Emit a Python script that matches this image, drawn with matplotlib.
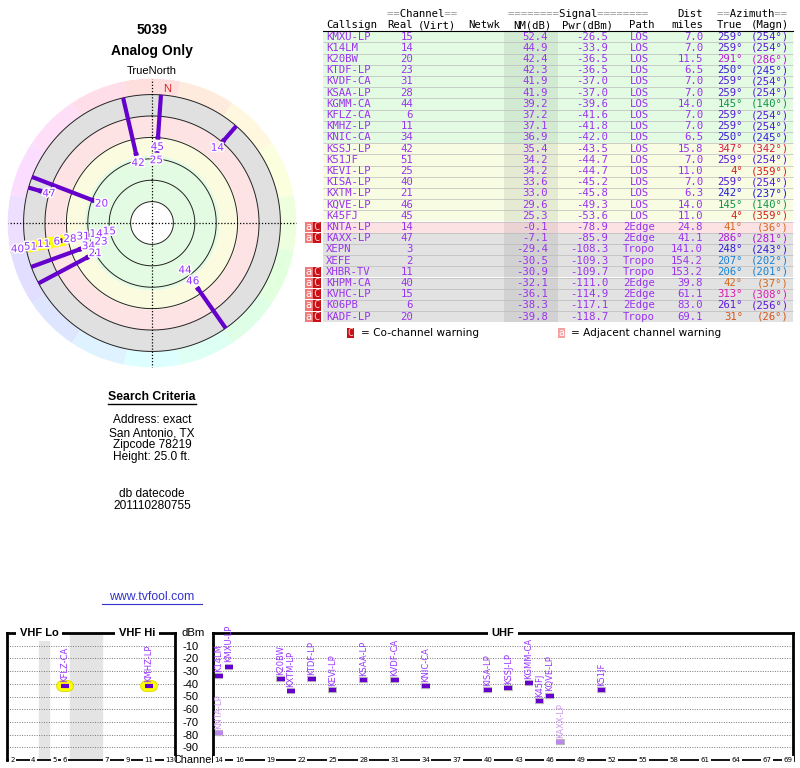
import numpy as np
import matplotlib
matplotlib.use('Agg')
import matplotlib.pyplot as plt
import matplotlib.patheffects as pe
from matplotlib.colors import hsv_to_rgb
from matplotlib.patches import Rectangle

# ---- station table ----
callsigns = ['KMXU-LP', 'K14LM', 'K20BW', 'KTDF-LP', 'KVDF-CA', 'KSAA-LP', 'KGMM-CA',
             'KFLZ-CA', 'KMHZ-LP', 'KNIC-CA', 'KSSJ-LP', 'K51JF', 'KEVI-LP', 'KISA-LP',
             'KXTM-LP', 'KQVE-LP', 'K45FJ', 'KNTA-LP', 'KAXX-LP', 'XEPN', 'XEFE',
             'XHBR-TV', 'KHPM-CA', 'KVHC-LP', 'K06PB', 'KADF-LP']
channels = [15, 14, 20, 23, 31, 28, 44, 6, 11, 34, 42, 51, 25, 40, 21, 46, 45, 14, 47,
            3, 2, 11, 40, 15, 6, 20]
nm_db = [52.4, 44.9, 42.4, 42.3, 41.9, 41.9, 39.2, 37.2, 37.1, 36.9, 35.4, 34.2, 34.2,
         33.6, 33.0, 29.6, 25.3, -0.1, -7.1, -29.4, -30.5, -30.9, -32.1, -36.1, -38.3, -39.8]
pwr_dbm = [-26.5, -33.9, -36.5, -36.5, -37.0, -37.0, -39.6, -41.6, -41.8, -42.0, -43.5,
           -44.7, -44.7, -45.2, -45.8, -49.3, -53.6, -78.9, -85.9, -108.3, -109.3, -109.7,
           -111.0, -114.9, -117.1, -118.7]
paths = ['LOS'] * 17 + ['2Edge', '2Edge', 'Tropo', 'Tropo', 'Tropo', '2Edge', '2Edge',
                        '2Edge', 'Tropo']
dist_mi = [7.0, 7.0, 11.5, 6.5, 7.0, 7.0, 14.0, 7.0, 7.0, 6.5, 15.8, 7.0, 11.0, 7.0, 6.3,
           14.0, 11.0, 24.8, 41.1, 141.0, 154.2, 153.2, 39.8, 61.1, 83.0, 69.1]
az_true = [259, 259, 291, 250, 259, 259, 145, 259, 259, 250, 347, 259, 4, 259, 242, 145,
           4, 41, 286, 248, 207, 206, 42, 313, 261, 31]
az_magn = [254, 254, 286, 245, 254, 254, 140, 254, 254, 245, 342, 254, 359, 254, 237, 140,
           359, 36, 281, 243, 202, 201, 37, 308, 256, 26]
warnings = [''] * 17 + ['aC', 'aC', '', '', 'aC', 'aC', 'aC', 'aC', 'aC']
highlight = ['KFLZ-CA', 'KMHZ-LP']

uhf_ticks = [14, 16, 19, 22, 25, 28, 31, 34, 37, 40, 43, 46, 49, 52, 55, 58, 61, 64, 67, 69]
vhf_ticks = [2, 4, 5, 6, 7, 9, 11, 13]
dbm_ticks = [-10, -20, -30, -40, -50, -60, -70, -80, -90]

n = len(callsigns)
PURPLE = '#9933ee'
MARK = '#6600cc'
SANS = 'Liberation Sans'
MONO = 'DejaVu Sans Mono'

W, H = 800, 768
fig = plt.figure(figsize=(8, 7.68), dpi=100)


def px_axes(left, top, width, height, **kw):
    return fig.add_axes([left / W, 1 - (top + height) / H, width / W, height / H], **kw)


def az_color(b):
    # compass colour: red at N, orange NE, green SE, blue S/SW, violet W, magenta NW
    hue = np.interp(b, [0, 60, 120, 360], [0, 35, 120, 360]) / 360.0
    val = 0.85 - 0.3 * np.exp(-((b - 130) / 45.0) ** 2)
    return hsv_to_rgb((hue, 0.88, val))


def band(nm):
    if nm >= 36:
        return '#e3fbe3'
    if nm >= 15:
        return '#f7fce2'
    if nm >= -1:
        return '#fde2e4'
    return '#e2e2e2'


# ---- overlay for free text ----
ov = px_axes(0, 0, W, H)
ov.set_xlim(0, W)
ov.set_ylim(H, 0)
ov.axis('off')
ov.text(152, 30, '5039', ha='center', va='center', fontsize=10, fontweight='bold', family=SANS)
ov.text(152, 51, 'Analog Only', ha='center', va='center', fontsize=10, fontweight='bold', family=SANS)
ov.text(152, 397, 'Search Criteria', ha='center', va='center', fontsize=8.8, fontweight='bold', family=SANS)
ov.plot([108, 196], [404, 404], color='black', lw=1)
for y, s in zip([420, 433, 445, 457, 494, 506],
                ['Address: exact', 'San Antonio, TX', 'Zipcode 78219', 'Height: 25.0 ft.',
                 'db datecode', '201110280755']):
    ov.text(152, y, s, ha='center', va='center', fontsize=8.6, family=SANS)
ov.text(152, 597, 'www.tvfool.com', ha='center', va='center', fontsize=8.8, family=SANS, color='#3333cc')
ov.plot([102, 202], [604, 604], color='#3333cc', lw=0.8)

# ---- polar radar ----
R0 = 100.0  # NM(dB) at the centre maps to radius 0
RMAX = 135
pa = px_axes(152 - 144.5, 223 - 144.5, 289, 289, projection='polar')
pa.set_theta_zero_location('N')
pa.set_theta_direction(-1)
pa.set_ylim(0, RMAX)
pa.axis('off')

nw = 16
wth = np.arange(nw) * 2 * np.pi / nw
pa.bar(wth, RMAX - (R0 + 20), width=2 * np.pi / nw, bottom=R0 + 20,
       color=[hsv_to_rgb((t / (2 * np.pi), 0.13, 1.0)) for t in wth], edgecolor='none', zorder=1)
for lo, hi, c in [(80, 37, '#e3fbe3'), (37, 19, '#fbfbe0'), (19, 0, '#fde3e3'), (0, -20, '#e0e0e0')]:
    pa.bar(0, lo - hi, width=2 * np.pi, bottom=R0 - lo, color=c, edgecolor='none', zorder=1)
full = np.linspace(0, 2 * np.pi, 361)
for lvl in [80, 60, 40, 20, 0, -20]:
    pa.plot(full, np.full_like(full, R0 - lvl), color='#222222', lw=0.7, zorder=2)
for a in [0, 90, 180, 270]:
    pa.plot([np.radians(a)] * 2, [0, RMAX], color='black', lw=0.9, ls=(0, (1, 1.5)), zorder=2)
pa.text(0, RMAX + 2, 'TrueNorth', ha='center', va='bottom', fontsize=8, family=SANS)
pa.text(np.radians(6.5), 126, 'N', ha='center', va='center', fontsize=8, family=SANS, color='#dd2222', zorder=6)

step = 12.5
groups = {}
for i in range(n):
    if nm_db[i] > -20:
        groups.setdefault(az_true[i], []).append(i)
halo = [pe.withStroke(linewidth=2.2, foreground='white')]
for b, idx in groups.items():
    idx = sorted(idx, key=lambda k: -nm_db[k])
    th = np.radians(b)
    pos, prev = [], -np.inf
    for k in idx:
        p = max(R0 - nm_db[k], prev + step)
        pos.append(p)
        prev = p
    if pos[-1] < R0 + 20:
        pa.plot([th, th], [pos[-1], R0 + 20], color=MARK, lw=3, solid_capstyle='butt', zorder=5)
    for k, p in zip(idx, pos):
        if callsigns[k] in highlight:
            pa.plot([th, th], [p - 10, p + 3], color='#ffff00', lw=8, zorder=3)
        pa.plot([th, th], [p, p + 3], color=MARK, lw=3.5, solid_capstyle='butt', zorder=5)
        pa.text(th, p - 7, str(channels[k]), ha='center', va='center', fontsize=7.5,
                color='#9933ff', path_effects=halo, zorder=7)

# ---- station table ----
RH = 11.2
tb = px_axes(300, 0, 500, 345)
tb.set_xlim(300, 800)
tb.set_ylim((345 - 36.7) / RH, -36.7 / RH)
tb.axis('off')
fs = 7.7


def header(x, y, s, ha='left'):
    tb.text(x, y, ''.join(' ' if ch == '=' else ch for ch in s), ha=ha, va='center',
            fontsize=fs, family=MONO, color='black')
    tb.text(x, y, ''.join(ch if ch == '=' else ' ' for ch in s), ha=ha, va='center',
            fontsize=fs, family=MONO, color='#999999')


header(387, -2, '==Channel==')
header(508, -2, '========Signal========')
header(703, -2, 'Dist', ha='right')
header(717, -2, '==Azimuth==')
for x, s, ha in [(326, 'Callsign', 'left'), (387, 'Real', 'left'), (418, '(Virt)', 'left'),
                 (468, 'Netwk', 'left'), (513, 'NM(dB)', 'left'), (562, 'Pwr(dBm)', 'left'),
                 (629, 'Path', 'left'), (703, 'miles', 'right'), (717, 'True', 'left'),
                 (789, '(Magn)', 'right')]:
    header(x, -1, s, ha)

for i in range(n):
    tb.add_patch(Rectangle((323, i - 0.5), 470, 1, facecolor=band(nm_db[i]), edgecolor='none'))
tb.add_patch(Rectangle((504, -0.5), 54, n, facecolor=(0, 0, 0, 0.07), edgecolor='none'))
tb.hlines(np.arange(n - 1) + 0.5, 323, 793, color='#bbbbbb', lw=0.5)
tb.plot([323, 793], [-0.5, -0.5], color='black', lw=0.8)

for i in range(n):
    kw = dict(va='center', fontsize=fs, family=MONO, color=PURPLE)
    tb.text(326, i, callsigns[i], ha='left', **kw)
    tb.text(413, i, str(channels[i]), ha='right', **kw)
    tb.text(548, i, f'{nm_db[i]:.1f}', ha='right', **kw)
    tb.text(608, i, f'{pwr_dbm[i]:.1f}', ha='right', **kw)
    tb.text(639, i, paths[i], ha='center', **kw)
    tb.text(703, i, f'{dist_mi[i]:.1f}', ha='right', **kw)
    kw['color'] = az_color(az_true[i])
    tb.text(743, i, f'{az_true[i]}°', ha='right', **kw)
    tb.text(789, i, f'({az_magn[i]}°)', ha='right', **kw)
    if warnings[i]:
        tb.add_patch(Rectangle((305, i - 0.45), 7.5, 0.9, facecolor='#f07a7a', edgecolor='none'))
        tb.add_patch(Rectangle((312.5, i - 0.45), 8, 0.9, facecolor='#c81018', edgecolor='none'))
        tb.text(308.7, i, 'a', ha='center', va='center', fontsize=7.5, family=MONO, color='white')
        tb.text(316.5, i, 'C', ha='center', va='center', fontsize=7.5, family=MONO, color='#ffc8c8')

ly = (333 - 36.7) / RH
tb.add_patch(Rectangle((347, ly - 0.45), 6.5, 0.9, facecolor='#c81018', edgecolor='none'))
tb.text(350.2, ly, 'C', ha='center', va='center', fontsize=7, family=MONO, color='#ffc8c8')
tb.text(361, ly, '= Co-channel warning', ha='left', va='center', fontsize=7.6, family='DejaVu Sans')
tb.add_patch(Rectangle((558, ly - 0.45), 6.5, 0.9, facecolor='#f4a0a0', edgecolor='none'))
tb.text(561.2, ly, 'a', ha='center', va='center', fontsize=7, family=MONO, color='white')
tb.text(571, ly, '= Adjacent channel warning', ha='left', va='center', fontsize=7.6, family='DejaVu Sans')


# ---- spectrum panels ----
def vhf_slot(ch):
    if ch <= 4:
        return ch - 2
    if ch <= 6:
        return ch - 1
    return ch + 2


av = px_axes(7, 633, 168, 127)
av.set_xlim(-0.5, 15.5)
au = px_axes(213.5, 633, 579.5, 127)
au.set_xlim(13.5, 69.5)
for ax in (av, au):
    ax.set_ylim(-100, 0)
    ax.set_xticks([])
    ax.tick_params(length=0)
    for v in dbm_ticks:
        ax.axhline(v, color='#777777', lw=0.7, ls=(0, (1, 1.5)), zorder=1)
    for s in ['top', 'left', 'right']:
        ax.spines[s].set_linewidth(2)
    ax.spines['bottom'].set_linewidth(1.3)
av.set_yticks([])
au.set_yticks(dbm_ticks)
au.set_yticklabels([str(v) for v in dbm_ticks], fontsize=8, family=SANS)
au.tick_params(axis='y', pad=11)
au.text(-0.035, 1.0, 'dBm', transform=au.transAxes, ha='center', va='center', fontsize=8.2, family=SANS)
au.text(-0.034, 0.0, 'Channel', transform=au.transAxes, ha='center', va='center', fontsize=7.8, family=SANS)

av.axvspan(vhf_slot(4) + 0.5, vhf_slot(5) - 0.5, color='#e4e4e4', zorder=0)
av.axvspan(vhf_slot(6) + 0.5, vhf_slot(7) - 0.5, color='#e4e4e4', zorder=0)

box = dict(facecolor='white', edgecolor='none', pad=2.5)
for ax, fx, s in [(av, 0.19, 'VHF Lo'), (av, 0.774, 'VHF Hi'), (au, 0.5, 'UHF')]:
    ax.text(fx, 1.0, s, transform=ax.transAxes, ha='center', va='center', fontsize=8,
            fontweight='bold', family=SANS, bbox=box, zorder=4)
small = dict(facecolor='white', edgecolor='none', pad=1.0)
for ch in vhf_ticks:
    av.text(vhf_slot(ch), -100, str(ch), ha='center', va='center', fontsize=5, bbox=small, zorder=4)
for ch in uhf_ticks:
    au.text(ch, -100, str(ch), ha='center', va='center', fontsize=5, bbox=small, zorder=4)

for i in range(n):
    if pwr_dbm[i] <= -100:
        continue
    if channels[i] <= 13:
        ax, x = av, vhf_slot(channels[i])
    else:
        ax, x = au, channels[i]
    faint = nm_db[i] < 0
    bar_c = '#bb88ee' if faint else MARK
    txt_c = '#cc99ee' if faint else '#9933ff'
    if callsigns[i] in highlight:
        ax.hlines(pwr_dbm[i], x - 0.3, x + 0.3, color='#dddd00', lw=8.5, capstyle='round', zorder=2)
        ax.hlines(pwr_dbm[i], x - 0.3, x + 0.3, color='#ffff00', lw=7, capstyle='round', zorder=2)
    else:
        ax.hlines(pwr_dbm[i], x - 0.42, x + 0.42, color='#bbbbbb', lw=4.5, zorder=2)
    ax.hlines(pwr_dbm[i], x - 0.38, x + 0.38, color=bar_c, lw=3, zorder=3)
    ax.annotate(callsigns[i], (x, pwr_dbm[i]), xytext=(0, 3), textcoords='offset points',
                rotation=90, ha='center', va='bottom', fontsize=6, color=txt_c, zorder=5)

fig.savefig('out.png', dpi=100)
